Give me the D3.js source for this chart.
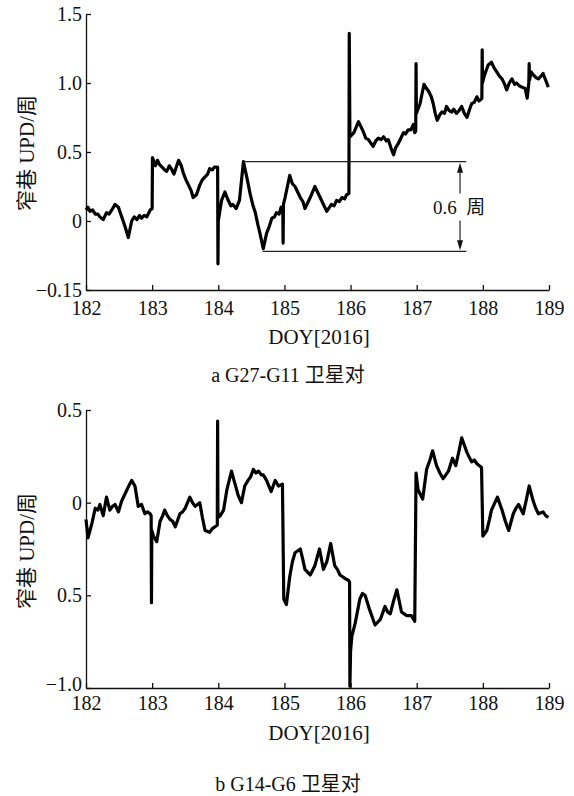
<!DOCTYPE html>
<html>
<head>
<meta charset="utf-8">
<script src="https://cdn.jsdelivr.net/npm/d3@7"></script>
<style>
  body { margin: 0; background: #fff; }
  svg { display: block; }
  text { font-family: "Liberation Serif", "Noto Sans CJK SC", serif; fill: #111; }
  .axis path, .axis line { stroke: #111; stroke-width: 1.3; }
  .axis text { font-size: 20px; }
</style>
</head>
<body>
<svg id="chart" width="574" height="796"></svg>
<script>
// --- datos ---
const doyTicks = [182, 183, 184, 185, 186, 187, 188, 189];
const yTicksA = [-0.5, 0, 0.5, 1.0, 1.5];
const yLabelsA = ["\u22120.15", "0", "0.5", "1.0", "1.5"];
const yTicksB = [-1.0, -0.5, 0, 0.5];
const yLabelsB = ["\u22121.0", "0.5", "0", "0.5"];

// G27-G11 [doy, upd]
const updA = [
  [182.00,0.08],[182.03,0.10],[182.06,0.07],[182.10,0.08],[182.14,0.05],[182.18,0.05],[182.21,0.03],
  [182.26,0.01],[182.31,0.06],[182.35,0.05],[182.39,0.08],[182.44,0.12],[182.49,0.10],[182.54,0.03],
  [182.59,-0.04],[182.64,-0.12],[182.69,0.00],[182.73,0.03],[182.77,0.01],[182.81,0.04],[182.84,0.02],
  [182.88,0.04],[182.92,0.03],[182.97,0.08],[183.00,0.09],[183.005,0.46],[183.05,0.40],[183.08,0.44],
  [183.11,0.41],[183.15,0.39],[183.19,0.37],[183.22,0.36],[183.26,0.40],[183.30,0.37],[183.33,0.34],
  [183.40,0.44],[183.44,0.40],[183.47,0.35],[183.51,0.30],[183.55,0.26],[183.59,0.22],[183.62,0.17],
  [183.67,0.19],[183.72,0.26],[183.76,0.30],[183.80,0.32],[183.84,0.34],[183.87,0.38],[183.91,0.37],
  [183.94,0.39],[183.99,0.39],[183.995,-0.31],[184.00,0.00],[184.05,0.15],[184.10,0.21],[184.15,0.15],
  [184.19,0.11],[184.22,0.12],[184.27,0.09],[184.32,0.15],[184.38,0.43],[184.43,0.32],[184.48,0.20],
  [184.52,0.12],[184.56,0.06],[184.60,-0.03],[184.63,-0.09],[184.68,-0.20],[184.73,-0.09],[184.77,-0.04],
  [184.81,0.02],[184.85,0.03],[184.88,0.06],[184.92,0.05],[184.95,0.10],[184.975,0.09],[184.98,-0.16],
  [184.985,0.12],[185.01,0.17],[185.08,0.33],[185.12,0.27],[185.16,0.25],[185.20,0.21],[185.24,0.17],
  [185.28,0.14],[185.31,0.09],[185.35,0.13],[185.39,0.17],[185.46,0.25],[185.50,0.21],[185.54,0.17],
  [185.59,0.12],[185.64,0.07],[185.71,0.12],[185.75,0.11],[185.79,0.15],[185.83,0.14],[185.87,0.17],
  [185.91,0.16],[185.94,0.19],[185.975,0.20],[185.98,1.36],[185.99,0.61],[186.05,0.64],[186.12,0.72],
  [186.16,0.68],[186.19,0.65],[186.23,0.60],[186.27,0.59],[186.34,0.54],[186.38,0.58],[186.42,0.60],
  [186.46,0.59],[186.50,0.61],[186.54,0.58],[186.57,0.59],[186.61,0.53],[186.65,0.48],[186.68,0.53],
  [186.72,0.56],[186.76,0.60],[186.80,0.64],[186.83,0.63],[186.87,0.66],[186.91,0.66],[186.95,0.70],
  [186.97,0.64],[186.985,0.65],[186.99,1.14],[186.995,0.78],[187.01,0.80],[187.05,0.85],[187.08,0.92],
  [187.11,0.99],[187.15,0.96],[187.18,0.94],[187.22,0.90],[187.25,0.85],[187.28,0.78],[187.31,0.73],
  [187.35,0.77],[187.38,0.79],[187.42,0.78],[187.45,0.83],[187.49,0.80],[187.53,0.79],[187.56,0.81],
  [187.60,0.78],[187.64,0.80],[187.68,0.83],[187.72,0.78],[187.76,0.75],[187.80,0.81],[187.83,0.85],
  [187.87,0.86],[187.91,0.90],[187.94,0.87],[187.97,0.88],[187.985,0.89],[187.99,1.24],[187.995,1.00],
  [188.02,1.05],[188.05,1.09],[188.08,1.13],[188.13,1.15],[188.17,1.11],[188.21,1.08],[188.25,1.05],
  [188.29,1.03],[188.33,0.99],[188.36,0.95],[188.40,1.00],[188.44,1.03],[188.48,0.99],[188.51,1.00],
  [188.55,0.98],[188.59,0.97],[188.64,0.96],[188.67,0.89],[188.695,1.00],[188.70,1.14],[188.705,1.02],
  [188.73,1.08],[188.76,1.06],[188.80,1.04],[188.84,1.03],[188.88,1.05],[188.91,1.07],[188.95,1.02],
  [188.99,0.97]
];

// G14-G6 [doy, upd]
const updB = [
  [182.00,-0.09],[182.03,-0.19],[182.06,-0.15],[182.09,-0.11],[182.14,-0.03],[182.18,-0.04],[182.21,-0.01],
  [182.26,-0.07],[182.31,0.03],[182.36,-0.04],[182.40,-0.02],[182.44,-0.01],[182.49,-0.05],[182.54,0.01],
  [182.58,0.04],[182.62,0.07],[182.66,0.10],[182.69,0.12],[182.74,0.09],[182.79,-0.02],[182.84,-0.01],
  [182.89,-0.06],[182.93,-0.05],[182.97,-0.06],[182.985,-0.07],[182.99,-0.54],[182.995,-0.15],[183.02,-0.18],
  [183.07,-0.21],[183.12,-0.10],[183.16,-0.07],[183.19,-0.04],[183.23,-0.07],[183.27,-0.09],[183.31,-0.10],
  [183.35,-0.13],[183.42,-0.06],[183.46,-0.05],[183.50,-0.03],[183.57,0.03],[183.61,0.00],[183.65,-0.02],
  [183.72,0.00],[183.76,-0.08],[183.80,-0.15],[183.87,-0.16],[183.91,-0.14],[183.95,-0.13],[183.985,-0.12],
  [183.99,0.44],[183.995,-0.08],[184.03,-0.07],[184.08,-0.04],[184.13,0.07],[184.20,0.17],[184.23,0.13],
  [184.27,0.08],[184.30,0.04],[184.35,0.00],[184.40,0.09],[184.45,0.12],[184.49,0.14],[184.53,0.18],
  [184.57,0.16],[184.61,0.17],[184.65,0.15],[184.68,0.15],[184.73,0.12],[184.80,0.06],[184.86,0.12],
  [184.91,0.09],[184.97,0.10],[184.99,-0.52],[185.03,-0.55],[185.08,-0.40],[185.12,-0.32],[185.16,-0.27],
  [185.24,-0.25],[185.28,-0.31],[185.31,-0.36],[185.39,-0.39],[185.46,-0.34],[185.53,-0.25],[185.59,-0.36],
  [185.64,-0.32],[185.70,-0.22],[185.76,-0.34],[185.80,-0.36],[185.84,-0.39],[185.88,-0.40],[185.92,-0.41],
  [185.97,-0.42],[185.985,-0.43],[185.99,-0.99],[186.00,-0.80],[186.02,-0.72],[186.07,-0.65],[186.14,-0.52],
  [186.18,-0.49],[186.22,-0.50],[186.29,-0.58],[186.33,-0.62],[186.37,-0.66],[186.45,-0.63],[186.52,-0.56],
  [186.56,-0.59],[186.60,-0.60],[186.65,-0.53],[186.70,-0.47],[186.77,-0.59],[186.81,-0.60],[186.85,-0.61],
  [186.92,-0.61],[186.97,-0.64],[186.99,0.16],[187.02,0.07],[187.09,0.02],[187.15,0.18],[187.20,0.23],
  [187.24,0.28],[187.30,0.20],[187.35,0.16],[187.40,0.13],[187.48,0.17],[187.54,0.24],[187.59,0.20],
  [187.64,0.28],[187.68,0.35],[187.72,0.31],[187.76,0.27],[187.83,0.22],[187.87,0.23],[187.91,0.21],
  [187.98,0.19],[188.00,-0.18],[188.06,-0.15],[188.10,-0.09],[188.13,-0.04],[188.22,0.03],[188.29,-0.04],
  [188.34,-0.10],[188.39,-0.15],[188.46,-0.06],[188.50,-0.03],[188.54,-0.01],[188.61,-0.06],[188.66,0.02],
  [188.70,0.09],[188.76,0.01],[188.80,-0.03],[188.84,-0.06],[188.91,-0.05],[188.95,-0.07],[188.99,-0.08]
];

// anotación 0.6 周
const gapTop = 0.43, gapBottom = -0.22;
const gapTopStart = 184.38, gapBottomStart = 184.67, gapEnd = 187.75, arrowDay = 187.655;

const svg = d3.select("#chart");

function drawPanel(opts) {
  const x = d3.scaleLinear().domain([182, 189]).range([86, 549]);
  const y = d3.scaleLinear().domain(opts.yDomain).range([opts.bottom, opts.top]);
  const g = svg.append("g");

  g.append("g")
    .attr("class", "axis")
    .attr("transform", `translate(0,${opts.bottom})`)
    .call(d3.axisBottom(x).tickValues(doyTicks).tickFormat(d3.format("d"))
      .tickSizeInner(-5).tickSizeOuter(0).tickPadding(opts.xPad));

  const yAxis = g.append("g")
    .attr("class", "axis")
    .attr("transform", "translate(86,0)")
    .call(d3.axisLeft(y).tickValues(opts.yTicks).tickFormat((d, i) => opts.yLabels[i])
      .tickSizeInner(-5).tickSizeOuter(0).tickPadding(4));
  if (opts.lowLabelShift) {
    yAxis.selectAll(".tick").filter((d, i) => i === 0).select("text")
      .attr("y", -opts.lowLabelShift);
  }

  g.selectAll(".axis text").style("fill", "#111");

  const line = d3.line().x(d => x(d[0])).y(d => y(d[1]));
  g.append("path")
    .datum(opts.data)
    .attr("d", line)
    .attr("fill", "none")
    .attr("stroke", "#000")
    .attr("stroke-width", 3.2)
    .attr("stroke-linejoin", "round");

  g.append("text")
    .attr("x", 319).attr("y", opts.bottom + opts.titleOffset)
    .attr("text-anchor", "middle").style("font-size", "21px")
    .text("DOY[2016]");

  g.append("text")
    .attr("transform", `translate(27,${opts.labelY}) rotate(-90)`)
    .attr("text-anchor", "middle").attr("dominant-baseline", "central")
    .style("font-size", "21px")
    .text("窄巷 UPD/周");

  g.append("text")
    .attr("x", 288).attr("y", opts.captionY)
    .attr("text-anchor", "middle").style("font-size", "20px")
    .text(opts.caption);

  return {x, y, g};
}

const pa = drawPanel({
  yDomain: [-0.5, 1.5], top: 14, bottom: 290, yTicks: yTicksA, yLabels: yLabelsA,
  data: updA, xPad: 11, titleOffset: 54, labelY: 153, captionY: 382, caption: "a G27-G11 卫星对"
});

const pb = drawPanel({
  yDomain: [-1.0, 0.5], top: 410, bottom: 688, yTicks: yTicksB, yLabels: yLabelsB,
  data: updB, xPad: 8, titleOffset: 52, labelY: 551, captionY: 791, caption: "b G14-G6 卫星对",
  lowLabelShift: 4
});

// --- anotación en el panel a ---
const xa = pa.x, ya = pa.y, ga = pa.g;
ga.append("line")
  .attr("x1", xa(gapTopStart)).attr("x2", xa(gapEnd))
  .attr("y1", ya(gapTop)).attr("y2", ya(gapTop))
  .attr("stroke", "#222").attr("stroke-width", 1.2);
ga.append("line")
  .attr("x1", xa(gapBottomStart)).attr("x2", xa(gapEnd))
  .attr("y1", ya(gapBottom)).attr("y2", ya(gapBottom))
  .attr("stroke", "#222").attr("stroke-width", 1.2);

const ax = xa(arrowDay), yTop = ya(gapTop), yBot = ya(gapBottom);
const yMid = (yTop + yBot) / 2;
ga.append("line")
  .attr("x1", ax).attr("x2", ax).attr("y1", yTop + 8).attr("y2", yMid - 13)
  .attr("stroke", "#222").attr("stroke-width", 1.2);
ga.append("line")
  .attr("x1", ax).attr("x2", ax).attr("y1", yMid + 14).attr("y2", yBot - 8)
  .attr("stroke", "#222").attr("stroke-width", 1.2);
ga.append("path")
  .attr("d", `M${ax},${yTop + 1}L${ax - 3},${yTop + 11}L${ax + 3},${yTop + 11}Z`)
  .attr("fill", "#111");
ga.append("path")
  .attr("d", `M${ax},${yBot - 1}L${ax - 3},${yBot - 11}L${ax + 3},${yBot - 11}Z`)
  .attr("fill", "#111");
ga.append("text")
  .attr("x", ax - 1).attr("y", yMid + 7)
  .attr("text-anchor", "middle").style("font-size", "19px")
  .attr("xml:space", "preserve")
  .text("0.6  周");
</script>
</body>
</html>
